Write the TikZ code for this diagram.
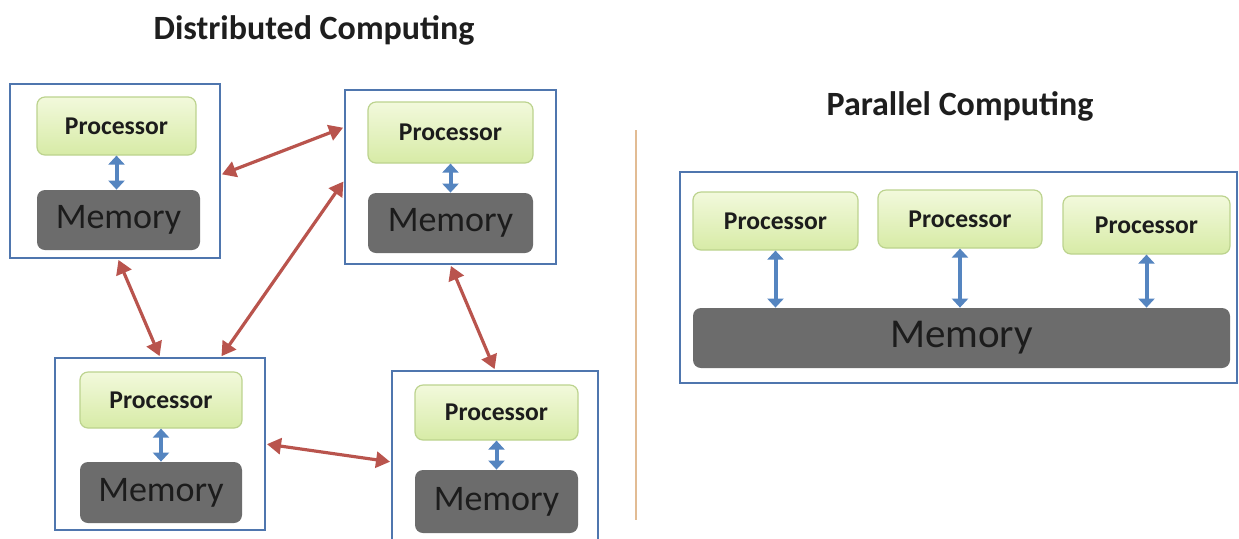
\documentclass[tikz,border=0pt]{standalone}
\usepackage{fontspec}
\setmainfont{Carlito}
\usetikzlibrary{arrows.meta}
\definecolor{boxblue}{HTML}{4F76AE}
\definecolor{procfill1}{HTML}{F2F9DC}
\definecolor{procfill2}{HTML}{D7EBA6}
\definecolor{procdraw}{HTML}{BCD38E}
\definecolor{memfill}{HTML}{6C6C6C}
\definecolor{memtext}{HTML}{1C1C1C}
\definecolor{redarr}{HTML}{B9544D}
\definecolor{bluearr}{HTML}{5585C0}
\definecolor{divider}{HTML}{E2BC94}
\definecolor{titletext}{HTML}{1E1E1E}
\tikzset{
  outerbox/.style={draw=boxblue, line width=1pt, fill=white, inner sep=0pt},
  proc/.style={draw=procdraw, line width=0.6pt, rounded corners=4pt, top color=procfill1, bottom color=procfill2, inner sep=0pt, text=memtext, font=\fontsize{12.8}{14}\selectfont\bfseries},
  mem/.style={fill=memfill, rounded corners=4pt, inner sep=0pt, text=memtext, font=\fontsize{18}{20}\selectfont},
  bigmem/.style={mem, font=\fontsize{20.5}{22}\selectfont},
  redlink/.style={draw=redarr, line width=1.6pt, {Triangle[length=7pt,width=8pt]}-{Triangle[length=7pt,width=8pt]}, shorten <=0.5pt, shorten >=0.5pt},
  bluelink/.style={draw=bluearr, line width=2pt, {Triangle[length=4.5pt,width=8pt]}-{Triangle[length=4.5pt,width=8pt]}},
  titlestyle/.style={text=titletext, font=\fontsize{17}{20}\selectfont\bfseries, inner sep=0pt}
}
\begin{document}
\begin{tikzpicture}[x=0.5pt,y=-0.5pt]
\useasboundingbox (0,0) rectangle (1239,538);
\clip (0,0) rectangle (1239,538);
\fill[white] (0,0) rectangle (1239,538);

% titles
\node[titlestyle] (t1) at (314,30) {Distributed Computing};
\node[titlestyle] (t2) at (960,106) {Parallel Computing};

% divider
\coordinate (d1) at (636,130);
\coordinate (d2) at (636,520);
\draw[divider, line width=0.9pt] (d1) -- (d2);

% distributed node A
\node[outerbox, minimum width=105pt, minimum height=87pt] (A) at (115,171) {};
\node[proc, minimum width=79.5pt, minimum height=29pt] (Ap) at (116.5,126) {Processor};
\node[mem, minimum width=81.5pt, minimum height=30pt] (Am) at (118.5,220) {Memory};
\draw[bluelink] (Ap.south) -- (Ap.south |- Am.north);

% node B
\node[outerbox, minimum width=105.5pt, minimum height=87pt] (B) at (450.5,177) {};
\node[proc, minimum width=82.5pt, minimum height=30.5pt] (Bp) at (450.5,132.5) {Processor};
\node[mem, minimum width=82.5pt, minimum height=30pt] (Bm) at (450.5,223) {Memory};
\draw[bluelink] (Bp.south) -- (Bm.north);

% node C
\node[outerbox, minimum width=105pt, minimum height=86pt] (C) at (160,444) {};
\node[proc, minimum width=81pt, minimum height=28pt] (Cp) at (161,400) {Processor};
\node[mem, minimum width=81pt, minimum height=30.5pt] (Cm) at (161,492.5) {Memory};
\draw[bluelink] (Cp.south) -- (Cm.north);

% node D (cut off at the bottom)
\node[outerbox, minimum width=103pt, minimum height=94.5pt] (D) at (495,465.5) {};
\node[proc, minimum width=81.5pt, minimum height=27.5pt] (Dp) at (496.5,412.5) {Processor};
\node[mem, minimum width=81.5pt, minimum height=31.5pt] (Dm) at (496.5,501.5) {Memory};
\draw[bluelink] (Dp.south) -- (Dm.north);

% red links
\draw[redlink] (A.-2) -- (B.155);
\draw[redlink] (B.182) -- (C.55);
\draw[redlink] (A.-88) -- (C.north);
\draw[redlink] (B.south) -- (D.north);
\draw[redlink] (C.east) -- (D.178);

% parallel
\node[outerbox, minimum width=278.5pt, minimum height=105.5pt] (P) at (958.5,277.5) {};
\node[proc, minimum width=82.5pt, minimum height=29pt] (P1) at (775.5,221) {Processor};
\node[proc, minimum width=82pt, minimum height=29pt] (P2) at (960,219) {Processor};
\node[proc, minimum width=83.5pt, minimum height=29pt] (P3) at (1146.5,225) {Processor};
\node[bigmem, minimum width=268.5pt, minimum height=30pt] (PM) at (961.5,338) {Memory};
\draw[bluelink] (P1.south) -- (P1.south |- PM.north);
\draw[bluelink] (P2.south) -- (P2.south |- PM.north);
\draw[bluelink] (P3.south) -- (P3.south |- PM.north);
\end{tikzpicture}
\end{document}
